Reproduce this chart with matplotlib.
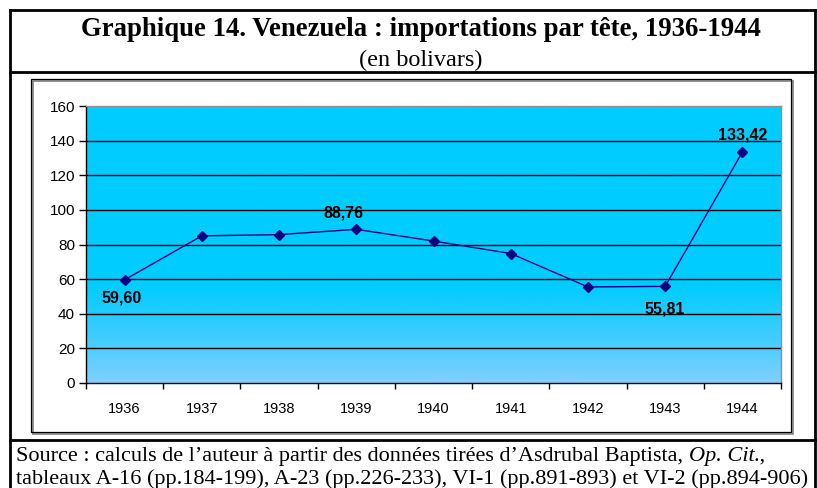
import numpy as np
import matplotlib.pyplot as plt
from matplotlib.patches import Rectangle
from matplotlib.colors import LinearSegmentedColormap

years = ["1936", "1937", "1938", "1939", "1940", "1941", "1942", "1943", "1944"]
imports_per_head = [59.60, 85.0, 85.7, 88.76, 82.0, 74.8, 55.5, 55.81, 133.42]
labelled = {0: "59,60", 3: "88,76", 7: "55,81", 8: "133,42"}
y_ticks = [0, 20, 40, 60, 80, 100, 120, 140, 160]

title = "Graphique 14. Venezuela : importations par tête, 1936-1944"
subtitle = "(en bolivars)"
source_parts = [
    ("Source : calculs de l’auteur à partir des données tirées d’Asdrubal Baptista, ", "normal"),
    ("Op. Cit", "italic"),
    ("., ", "normal"),
]
source_line2 = "tableaux A-16 (pp.184-199), A-23 (pp.226-233), VI-1 (pp.891-893) et VI-2 (pp.894-906)"

W, H = 817, 488
fig = plt.figure(figsize=(W / 100, H / 100), dpi=100)


def fx(px):
    return px / W


def fy(py):
    return 1 - py / H


# outer frame and separators
frame = fig.add_axes([0, 0, 1, 1])
frame.set_xlim(0, W)
frame.set_ylim(H, 0)
frame.axis("off")
frame.plot([10, 10], [10, H], color="black", lw=2)
frame.plot([815, 815], [10, H], color="black", lw=2)
frame.plot([10, 815], [10, 10], color="black", lw=2)
frame.plot([10, 815], [72, 72], color="black", lw=2)
frame.plot([10, 815], [440, 440], color="black", lw=2)
frame.add_patch(Rectangle((33, 81), 760, 353, fill=False, ec="#808080", lw=1.2))
frame.add_patch(Rectangle((31, 79), 760, 353, fill=False, ec="black", lw=0.9))

serif = "Liberation Serif"
fig.text(fx(421), fy(29), title, ha="center", va="center", family=serif,
         fontsize=19.3, fontweight="bold")
fig.text(fx(421), fy(60), subtitle, ha="center", va="center", family=serif,
         fontsize=17.5)

# first source line, pieced together so the italic part sits in place
renderer = fig.canvas.get_renderer()
xpos = 16
for txt, style in source_parts:
    t = fig.text(fx(xpos), fy(457), txt, ha="left", va="center", family=serif,
                 fontsize=16, fontstyle=style)
    bb = t.get_window_extent(renderer=renderer)
    xpos += bb.width
fig.text(fx(16), fy(479), source_line2, ha="left", va="center", family=serif, fontsize=16)

# plot area
left, right, top, bottom = 86, 781, 106, 383
ax = fig.add_axes([fx(left), fy(bottom), (right - left) / W, (bottom - top) / H])
x = np.arange(len(years))
ax.set_xlim(-0.5, len(years) - 0.5)
ax.set_ylim(0, 160)

cmap = LinearSegmentedColormap.from_list(
    "bg", [(0, "#7fd0ff"), (0.2, "#33ccff"), (0.35, "#00ccff"), (1, "#00ccff")])
grad = np.linspace(0, 1, 256).reshape(-1, 1)
ax.imshow(grad, cmap=cmap, origin="lower", aspect="auto",
          extent=[-0.5, len(years) - 0.5, 0, 160], zorder=0)

for yv in y_ticks[1:-1]:
    ax.axhline(yv, color="black", lw=1, zorder=1)

ax.plot(x, imports_per_head, color="#000080", lw=1, marker="D", ms=5.5,
        mec="#000080", mfc="#000080", zorder=3)

offsets = {0: (-2, -13), 3: (-9, 12), 7: (0, -16), 8: (0, 12)}
for i, txt in labelled.items():
    dx, dy = offsets[i]
    ax.annotate(txt, (x[i], imports_per_head[i]), xytext=(dx, dy), textcoords="offset points",
                ha="center", va="center", fontsize=11.5, fontweight="bold",
                family="Liberation Sans", zorder=4)

ax.set_yticks(y_ticks)
ax.set_yticklabels([str(v) for v in y_ticks], family="Liberation Sans", fontsize=11)
ax.set_xticks(np.arange(-0.5, len(years), 1.0))
ax.set_xticklabels([])
ax.set_xticks(x, minor=True)
ax.set_xticklabels(years, minor=True, family="Liberation Sans", fontsize=10.5)
ax.tick_params(axis="x", which="minor", length=0, pad=14)
ax.tick_params(axis="x", which="major", length=4, direction="out", width=1)
ax.tick_params(axis="y", length=5, direction="out", width=1, pad=3)

ax.spines["left"].set_color("black")
ax.spines["bottom"].set_color("black")
ax.spines["top"].set_color("#909090")
ax.spines["right"].set_color("#909090")
for s in ax.spines.values():
    s.set_linewidth(1)

fig.savefig("out.png", dpi=100)
